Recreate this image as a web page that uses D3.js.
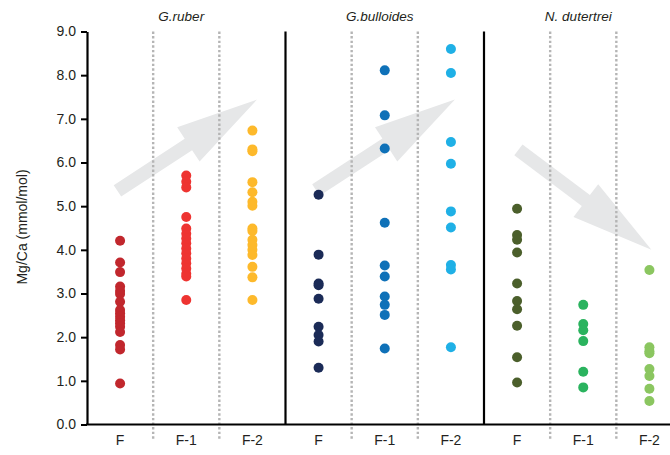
<!DOCTYPE html>
<html>
<head>
<meta charset="utf-8" />
<title>Mg/Ca</title>
<script src="https://d3js.org/d3.v7.min.js"></script>
<style>
  body { margin: 0; background: #fff; }
  text { font-family: "Liberation Sans", Arial, sans-serif; fill: #231f20; }
</style>
</head>
<body>
<script>
// species panels and sample groups
var panels = ["G.ruber", "G.bulloides", "N. dutertrei"];
var groups = ["F", "F-1", "F-2"];
var yTicks = [0, 1, 2, 3, 4, 5, 6, 7, 8, 9];

// Mg/Ca values (mmol/mol)
var rubF  = [4.21, 3.71, 3.49, 3.16, 3.06, 2.99, 2.81, 2.62, 2.55, 2.47, 2.39, 2.32, 2.24, 2.12, 1.82, 1.72, 0.94];
var rubF1 = [5.70, 5.56, 5.43, 4.75, 4.49, 4.37, 4.26, 4.15, 4.03, 3.92, 3.80, 3.69, 3.57, 3.45, 3.39, 2.85];
var rubF2 = [6.73, 6.30, 6.26, 5.55, 5.32, 5.10, 5.01, 4.49, 4.43, 4.23, 4.11, 4.00, 3.88, 3.61, 3.37, 2.85];
var bulF  = [5.26, 3.89, 3.23, 3.19, 2.88, 2.24, 2.05, 1.90, 1.30];
var bulF1 = [8.11, 7.08, 6.32, 4.62, 3.64, 3.39, 2.93, 2.74, 2.51, 1.74];
var bulF2 = [8.60, 8.05, 6.47, 5.97, 4.88, 4.51, 3.65, 3.55, 1.77];
var dutF  = [4.94, 4.34, 4.23, 3.94, 3.23, 2.83, 2.64, 2.26, 1.54, 0.96];
var dutF1 = [2.74, 2.30, 2.16, 1.91, 1.21, 0.85];
var dutF2 = [3.54, 1.77, 1.68, 1.63, 1.27, 1.11, 0.82, 0.54];

// trend arrows: [position in group units, value]
var arrowFrom = [[0.46, 5.35], [0.46, 5.37], [0.52, 6.29]];
var arrowTo   = [[2.57, 7.44], [2.56, 7.44], [2.53, 4.00]];

var colors = [
  ["#c1272d", "#ee3431", "#fdb92b"],
  ["#1b2b57", "#0f71b8", "#1fb0e6"],
  ["#4b5f2b", "#2ab35e", "#8bc660"]
];

var series = [
  [rubF, rubF1, rubF2],
  [bulF, bulF1, bulF2],
  [dutF, dutF1, dutF2]
];

var width = 670, height = 455;
var svg = d3.select("body").append("svg")
  .attr("width", width)
  .attr("height", height);

var left = 87, panelW = 198.5;
var y = d3.scaleLinear().domain([0, 9]).range([424.5, 31.5]);
var xPanel = d3.scaleBand().domain(panels).range([left, left + 3 * panelW]);
var xGroup = d3.scaleBand().domain(groups).range([0, xPanel.bandwidth()]);
var xIn = d3.scaleLinear().domain([0, 3]).range([0, xPanel.bandwidth()]);

// arrows
function arrowPath(p0, p1) {
  var dx = p1[0] - p0[0], dy = p1[1] - p0[1];
  var len = Math.sqrt(dx * dx + dy * dy);
  var ux = dx / len, uy = dy / len, nx = -uy, ny = ux;
  var shaft = 6.8, head = 20.5, headLen = 82;
  var bx = p1[0] - ux * headLen, by = p1[1] - uy * headLen;
  var pts = [
    [p0[0] + nx * shaft, p0[1] + ny * shaft],
    [bx + nx * shaft, by + ny * shaft],
    [bx + nx * head, by + ny * head],
    p1,
    [bx - nx * head, by - ny * head],
    [bx - nx * shaft, by - ny * shaft],
    [p0[0] - nx * shaft, p0[1] - ny * shaft]
  ];
  return "M" + pts.map(function(p){ return p[0].toFixed(1) + "," + p[1].toFixed(1); }).join("L") + "Z";
}

svg.append("g").selectAll("path")
  .data(panels)
  .enter()
  .append("path")
  .attr("d", function(d, i){
    var x0 = xPanel(d);
    return arrowPath([x0 + xIn(arrowFrom[i][0]), y(arrowFrom[i][1])],
                     [x0 + xIn(arrowTo[i][0]), y(arrowTo[i][1])]);
  })
  .attr("fill", "#e6e7e8");

// dotted separators between groups
panels.forEach(function(p){
  groups.slice(1).forEach(function(g){
    var gx = xPanel(p) + xGroup(g);
    svg.append("line")
      .attr("x1", gx).attr("x2", gx)
      .attr("y1", y(9)).attr("y2", 440)
      .attr("stroke", "#b5b5b5")
      .attr("stroke-width", 2.4)
      .attr("stroke-dasharray", "2.4,2.2");
  });
});

// points
panels.forEach(function(p, i){
  groups.forEach(function(g, j){
    var cx = xPanel(p) + xGroup(g) + xGroup.bandwidth() / 2;
    svg.append("g").selectAll("circle")
      .data(series[i][j])
      .enter()
      .append("circle")
      .attr("cx", cx)
      .attr("cy", function(d){ return y(d); })
      .attr("r", 5)
      .attr("fill", colors[i][j]);
  });
});

// y axis
var yAxis = d3.axisLeft(y)
  .tickValues(yTicks)
  .tickFormat(d3.format(".1f"))
  .tickSize(6)
  .tickSizeOuter(0)
  .tickPadding(5);

var gy = svg.append("g")
  .attr("transform", "translate(" + left + ",0)")
  .call(yAxis);
gy.select(".domain").attr("stroke-width", 2.2).attr("stroke", "#000");
gy.selectAll(".tick line").attr("stroke-width", 2).attr("stroke", "#000");
gy.selectAll(".tick text")
  .attr("font-size", 14)
  .attr("font-family", "Liberation Sans, Arial, sans-serif")
  .attr("fill", "#231f20");

// panel dividers
panels.slice(1).forEach(function(p){
  svg.append("line")
    .attr("x1", xPanel(p)).attr("x2", xPanel(p))
    .attr("y1", y(9)).attr("y2", y(0))
    .attr("stroke", "#000")
    .attr("stroke-width", 2.2);
});

// bottom axis line
svg.append("line")
  .attr("x1", left - 1).attr("x2", width)
  .attr("y1", y(0)).attr("y2", y(0))
  .attr("stroke", "#000")
  .attr("stroke-width", 2.2);

// group labels
panels.forEach(function(p){
  svg.append("g").selectAll("text")
    .data(groups)
    .enter()
    .append("text")
    .attr("x", function(g){ return xPanel(p) + xGroup(g) + xGroup.bandwidth() / 2; })
    .attr("y", 445)
    .attr("text-anchor", "middle")
    .attr("font-size", 14)
    .text(function(g){ return g; });
});

// panel titles
svg.append("g").selectAll("text")
  .data(panels)
  .enter()
  .append("text")
  .attr("x", function(p){ return xPanel(p) + xPanel.bandwidth() / 2 - 5; })
  .attr("y", 21)
  .attr("text-anchor", "middle")
  .attr("font-size", 13.5)
  .attr("font-style", "italic")
  .text(function(p){ return p; });

// y label
svg.append("text")
  .attr("transform", "translate(27," + (y(4.5) - 1) + ") rotate(-90)")
  .attr("text-anchor", "middle")
  .attr("font-size", 14)
  .text("Mg/Ca (mmol/mol)");
</script>
</body>
</html>
